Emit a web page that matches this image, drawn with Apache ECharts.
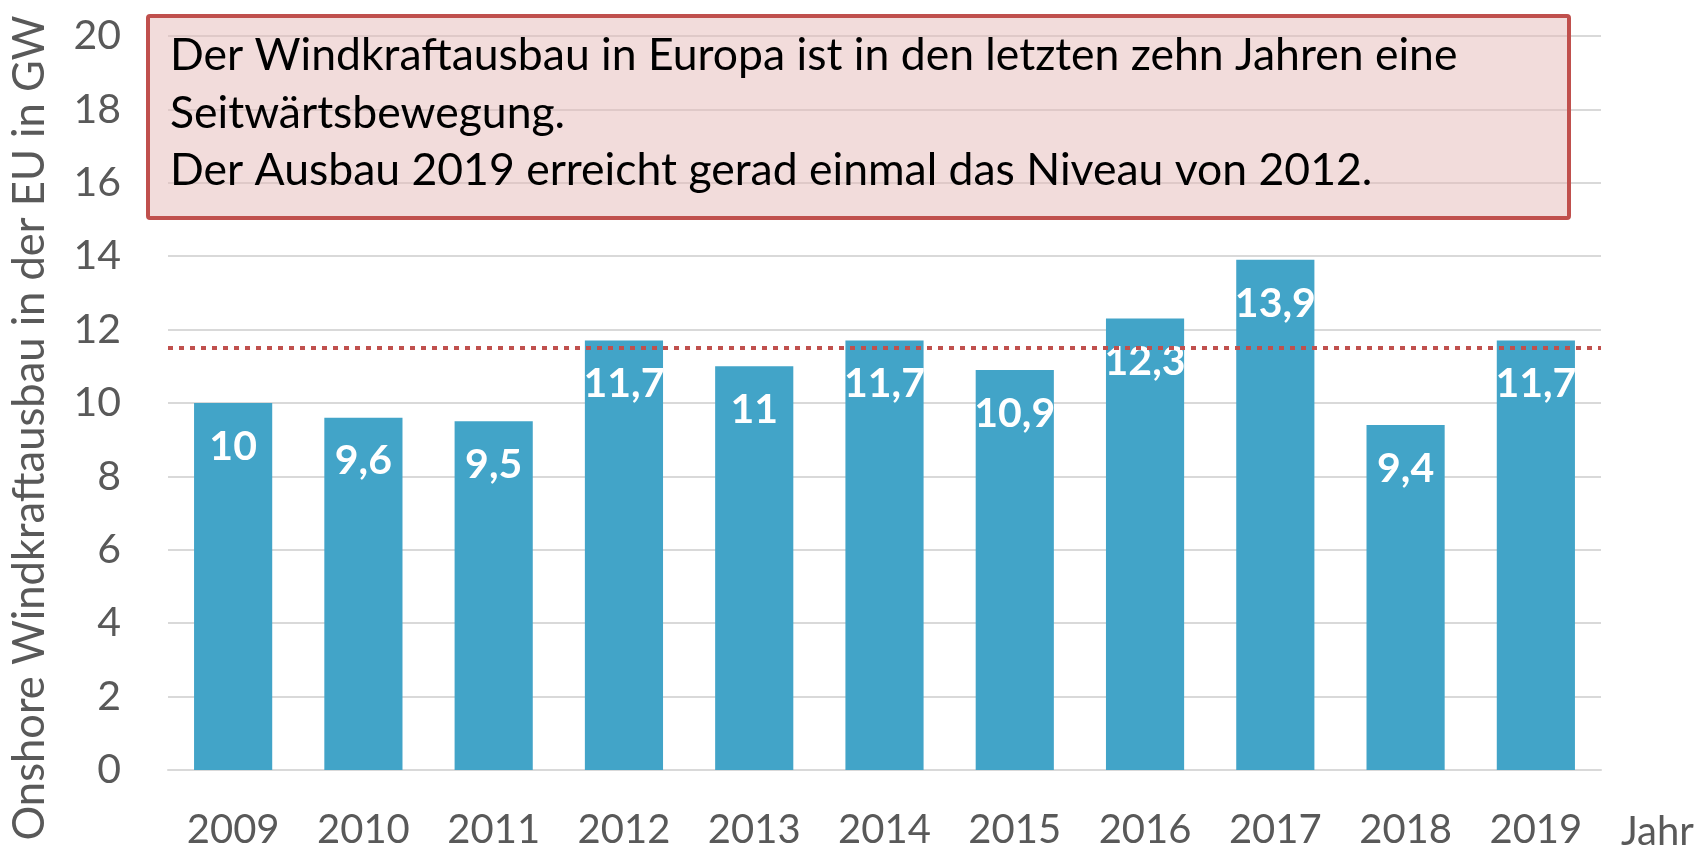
<!DOCTYPE html>
<html>
<head>
<meta charset="utf-8">
<script src="https://cdn.jsdelivr.net/npm/echarts@6/dist/echarts.min.js"></script>
<style>html,body{margin:0;padding:0;background:#fff}#c{width:1698px;height:850px}</style>
</head>
<body>
<div id="c"></div>
<script>
const years = ['2009','2010','2011','2012','2013','2014','2015','2016','2017','2018','2019'];
const installedGW = [10, 9.6, 9.5, 11.7, 11, 11.7, 10.9, 12.3, 13.9, 9.4, 11.7];
const referenceLevel = 11.5;
const yTitle = 'Onshore Windkraftausbau in der EU in GW';
const xTitle = 'Jahr';
const noteLines = [
  'Der Windkraftausbau in Europa ist in den letzten zehn Jahren eine',
  'Seitwärtsbewegung.',
  'Der Ausbau 2019 erreicht gerad einmal das Niveau von 2012.'
];

const FONT = 'Lato';
const chart = echarts.init(document.getElementById('c'));
chart.setOption({
  animation: false,
  backgroundColor: '#fff',
  grid: { left: 168, right: 97, top: 36, bottom: 79 },
  xAxis: {
    type: 'category',
    data: years,
    axisLine: { show: true, lineStyle: { color: '#D9D9D9', width: 2 } },
    axisTick: { show: false },
    axisLabel: { color: '#595959', fontFamily: FONT, fontSize: 40, margin: 40 }
  },
  yAxis: {
    type: 'value',
    min: 0, max: 20, interval: 2,
    axisLine: { show: false },
    axisTick: { show: false },
    splitLine: { lineStyle: { color: '#D9D9D9', width: 2 } },
    axisLabel: { color: '#595959', fontFamily: FONT, fontSize: 41, margin: 47 }
  },
  series: [{
    type: 'bar',
    data: installedGW,
    barWidth: '60%',
    itemStyle: { color: '#42A4C8' },
    label: {
      show: true,
      position: 'insideTop',
      distance: 23,
      color: '#fff',
      fontFamily: FONT,
      fontWeight: 'bold',
      fontSize: 41,
      formatter: p => String(p.value).replace('.', ',')
    },
    markLine: {
      symbol: 'none',
      silent: true,
      label: { show: false },
      lineStyle: { color: '#C0504D', width: 4, type: [5, 6] },
      data: [{ yAxis: referenceLevel }]
    }
  }],
  graphic: [
    {
      type: 'rect',
      shape: { x: 148, y: 16, width: 1421, height: 202, r: 2 },
      style: { fill: 'rgba(230,185,184,0.5)', stroke: '#C0504D', lineWidth: 4 },
      z: 10
    },
    {
      type: 'text',
      x: 170, y: 27,
      style: {
        text: noteLines.join('\n'),
        fill: '#000',
        font: '44.5px ' + FONT,
        lineHeight: 57.5,
        textVerticalAlign: 'top'
      },
      z: 11
    },
    {
      type: 'text',
      x: 30, y: 428,
      rotation: Math.PI / 2,
      style: {
        text: yTitle,
        fill: '#595959',
        font: '43.5px ' + FONT,
        textAlign: 'center',
        textVerticalAlign: 'middle'
      }
    },
    {
      type: 'text',
      x: 1621, y: 832,
      style: {
        text: xTitle,
        fill: '#595959',
        font: '40px ' + FONT,
        textAlign: 'left',
        textVerticalAlign: 'middle'
      }
    }
  ]
});
</script>
</body>
</html>
